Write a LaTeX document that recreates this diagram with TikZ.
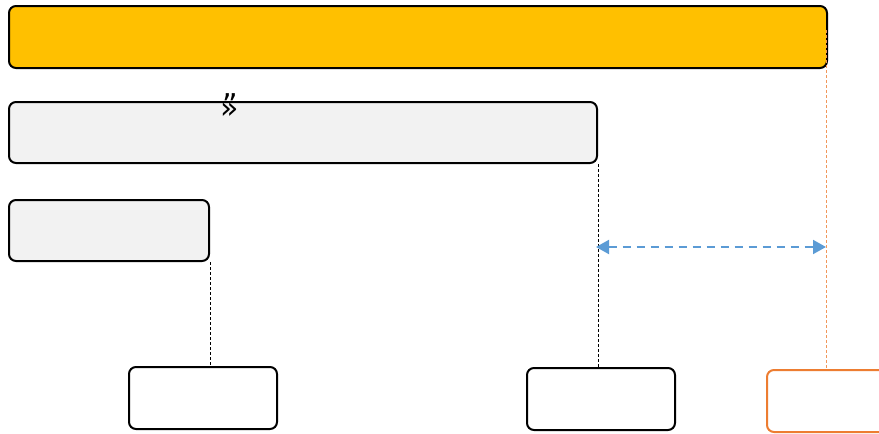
\documentclass[tikz,border=0pt]{standalone}
\usepackage{fontspec}
\setmainfont{DejaVu Sans}
\usetikzlibrary{arrows.meta}
\definecolor{gold}{HTML}{FFC000}
\definecolor{lgray}{HTML}{F2F2F2}
\definecolor{orng}{HTML}{ED7D31}
\definecolor{blu}{HTML}{5B9BD5}
\begin{document}
\begin{tikzpicture}[x=1pt,y=-1pt,
  bar/.style={draw=black,line width=2pt,rounded corners=7pt,inner sep=0pt,anchor=north west},
  guide/.style={line width=0.7pt,dash pattern=on 3pt off 2pt},
  glyph/.style={inner sep=0pt,font=\fontsize{30}{30}\selectfont}]
\useasboundingbox (0,0) rectangle (879,434);
\clip (0,0) rectangle (879,434);
\node[bar,fill=gold,minimum width=818pt,minimum height=62pt] (top) at (8,5) {};
\node[bar,fill=lgray,minimum width=588pt,minimum height=61pt] (mid) at (8,101) {};
\node[bar,fill=lgray,minimum width=200pt,minimum height=61pt] (sm) at (8,199) {};
\node[bar,fill=white,minimum width=148pt,minimum height=62pt] (b1) at (128,366) {};
\node[bar,fill=white,minimum width=148pt,minimum height=62pt] (b2) at (526,367) {};
\node[bar,draw=orng,fill=white,minimum width=140pt,minimum height=62pt] (b3) at (766,369) {};
\node[glyph] (q) at (230,106) {\ooalign{\hfil\raisebox{3pt}{\symbol{"22}}\hfil\cr »\cr}};
\coordinate (r) at (826,30);
\draw[guide] (sm.south east) -- (sm.south east |- b1.north);
\draw[guide] (mid.south east) -- (mid.south east |- b2.north);
\draw[guide,draw=orng!80,line width=0.6pt] (r) -- (r |- b3.north);
\coordinate (al) at (596,247);
\coordinate (ar) at (826,247);
\draw[blu,line width=2pt,dash pattern=on 8pt off 6pt,{Triangle[length=13pt,width=14pt]}-{Triangle[length=13pt,width=14pt]}] (al) -- (ar);
\end{tikzpicture}
\end{document}
